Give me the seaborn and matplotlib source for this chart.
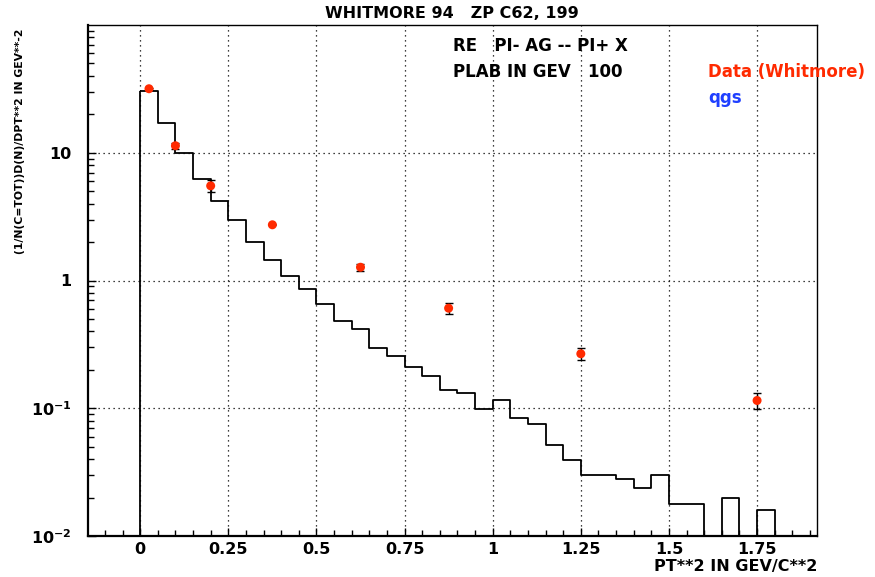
import numpy as np
import pandas as pd
import matplotlib
matplotlib.use("Agg")
import matplotlib.pyplot as plt
import seaborn as sns
from matplotlib.ticker import FixedLocator, LogLocator, NullFormatter, MultipleLocator

# qgs model histogram, bins of 0.05 in pt**2
bin_width = 0.05
bin_range = (0.0, 1.8)
qgs_values = [30.7, 17.2, 9.9, 6.2, 4.2, 2.95, 2.0, 1.46, 1.09, 0.865,
              0.649, 0.486, 0.416, 0.297, 0.257, 0.211, 0.180, 0.140, 0.131, 0.098,
              0.116, 0.0845, 0.0755, 0.0517, 0.0396, 0.0299, 0.0299, 0.0277, 0.0238, 0.0299,
              0.0179, 0.0179, 0.0, 0.0199, 0.0, 0.0159]

# Whitmore data points
data_pt2 = [0.025, 0.1, 0.2, 0.375, 0.625, 0.875, 1.25, 1.75]
data_val = [31.7, 11.35, 5.51, 2.73, 1.27, 0.607, 0.267, 0.115]
data_err = [0.5, 0.6, 0.6, 0.03, 0.08, 0.06, 0.027, 0.017]

y_ticks = [0.01, 0.1, 1, 10]
y_labels = [r"$\mathbf{10^{-2}}$", r"$\mathbf{10^{-1}}$", "1", "10"]
x_ticks = [0, 0.25, 0.5, 0.75, 1, 1.25, 1.5, 1.75]
x_labels = ["0", "0.25", "0.5", "0.75", "1", "1.25", "1.5", "1.75"]

sns.set_style("white")
plt.rcParams["font.family"] = ["DejaVu Sans"]
plt.rcParams["font.weight"] = "bold"
plt.rcParams["text.color"] = "black"
plt.rcParams["xtick.color"] = "black"
plt.rcParams["ytick.color"] = "black"
plt.rcParams["axes.labelcolor"] = "black"

fig = plt.figure(figsize=(8.75, 5.77), dpi=100)
ax = fig.add_axes([88 / 875, 1 - 536 / 577, (817 - 88) / 875, (536 - 25) / 577])
ax.set_yscale("log")

centers = bin_range[0] + bin_width * (np.arange(len(qgs_values)) + 0.5)
hist_df = pd.DataFrame({"pt2": centers, "w": qgs_values})
sns.histplot(data=hist_df, x="pt2", weights="w", binwidth=bin_width, binrange=bin_range,
             element="step", fill=True, color="black", facecolor="none",
             edgecolor="black", linewidth=1.3, ax=ax)

ax.errorbar(data_pt2, data_val, yerr=data_err, fmt="none", ecolor="black",
            elinewidth=1.0, capsize=3.2, capthick=1.0, zorder=4)
sns.scatterplot(x=data_pt2, y=data_val, color="#ff2a00", s=42, edgecolor="none",
                marker="o", ax=ax, zorder=5)

ax.set_xlim(-0.148, 1.92)
ax.set_ylim(0.01, 100)

ax.xaxis.set_major_locator(FixedLocator(x_ticks))
ax.set_xticklabels(x_labels)
ax.xaxis.set_minor_locator(MultipleLocator(0.05))
ax.set_yticks(y_ticks)
ax.set_yticklabels(y_labels)
ax.yaxis.set_minor_locator(LogLocator(base=10, subs=np.arange(2, 10)))
ax.yaxis.set_minor_formatter(NullFormatter())

ax.tick_params(axis="both", which="major", direction="in", length=6, width=1.0,
               labelsize=11.5, top=False, right=False, bottom=True, left=True)
ax.tick_params(axis="x", which="major", pad=4)
ax.tick_params(axis="y", which="major", pad=12)
ax.tick_params(axis="both", which="minor", direction="in", length=4, width=1.0,
               top=False, right=False, bottom=True, left=True)
for lab in ax.get_xticklabels() + ax.get_yticklabels():
    lab.set_fontweight("bold")

ax.grid(True, which="major", color="black", linestyle=(0, (1, 3)), linewidth=0.9)
for s in ["left", "bottom"]:
    ax.spines[s].set_linewidth(1.6)
for s in ["top", "right"]:
    ax.spines[s].set_linewidth(1.0)
for s in ax.spines.values():
    s.set_color("black")

ax.set_xlabel("")
ax.set_ylabel("")
fig.text(817 / 875, 1 - 566 / 577, "PT**2 IN GEV/C**2", ha="right", va="center",
         fontsize=11.5, fontweight="bold")
fig.text(20 / 875, 1 - 28 / 577, "(1/N(C=TOT))D(N)/DPT**2 IN GEV**-2", rotation=90,
         ha="center", va="top", fontsize=7.8, fontweight="bold")
fig.text(452 / 875, 1 - 14 / 577, "WHITMORE 94   ZP C62, 199", ha="center", va="center",
         fontsize=11.5, fontweight="bold")
fig.text(453 / 875, 1 - 46 / 577, "RE   PI- AG -- PI+ X", ha="left", va="center",
         fontsize=12, fontweight="bold")
fig.text(453 / 875, 1 - 72 / 577, "PLAB IN GEV   100", ha="left", va="center",
         fontsize=12, fontweight="bold")
fig.text(708 / 875, 1 - 72 / 577, "Data (Whitmore)", ha="left", va="center",
         fontsize=12, fontweight="bold", color="#ff2a00")
fig.text(708 / 875, 1 - 98 / 577, "qgs", ha="left", va="center",
         fontsize=12, fontweight="bold", color="#1f3fff")

fig.savefig("out.png", dpi=100)
